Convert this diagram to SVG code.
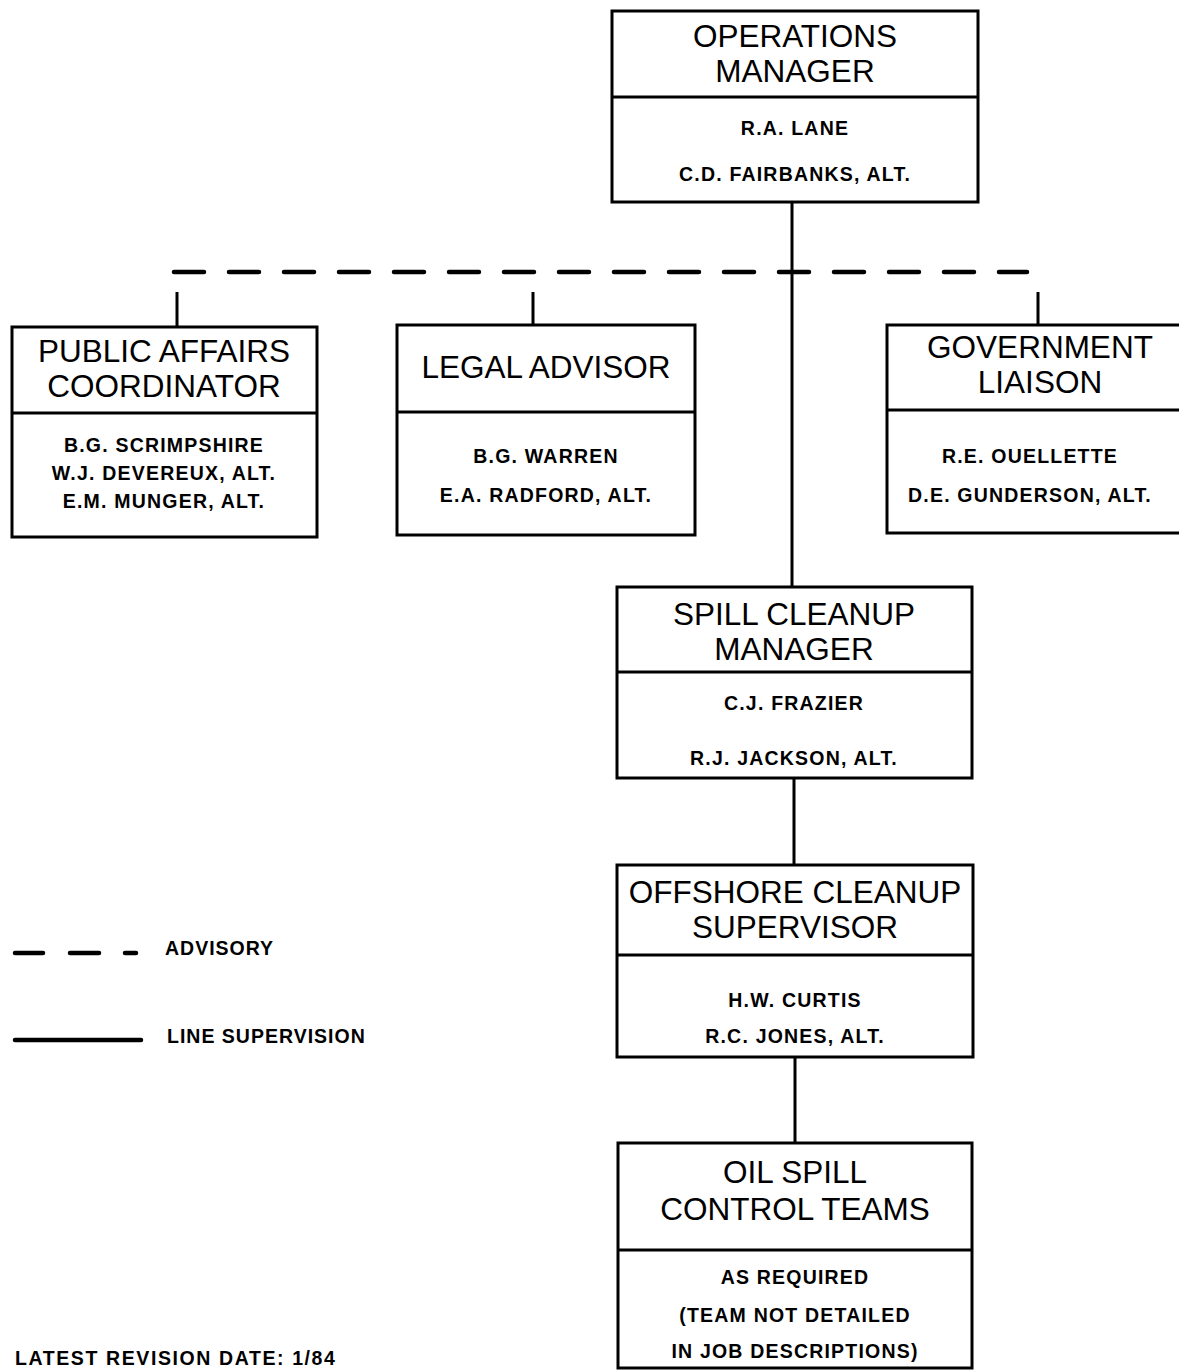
<svg xmlns="http://www.w3.org/2000/svg" width="1179" height="1370" viewBox="0 0 1179 1370">
<style>
.box{fill:#fff;stroke:#000;stroke-width:3}
.div{stroke:#000;stroke-width:3}
.t{font-family:"Liberation Sans",Arial,sans-serif;font-size:31.5px;text-anchor:middle;fill:#000}
.n{font-family:"Liberation Sans",Arial,sans-serif;font-size:19.5px;font-weight:bold;letter-spacing:1.2px;text-anchor:middle;fill:#000}
.l{font-family:"Liberation Sans",Arial,sans-serif;font-size:19.5px;font-weight:bold;letter-spacing:1px;fill:#000}
.solid{stroke:#000;stroke-width:3;fill:none}
.dash{stroke:#000;stroke-width:4.5;fill:none;stroke-dasharray:30 25;stroke-linecap:round}
</style>
<rect width="1179" height="1370" fill="#fff"/>
<g id="connectors">
<line class="dash" x1="174" y1="272" x2="1027" y2="272"/>
<line class="solid" x1="177" y1="292" x2="177" y2="327"/>
<line class="solid" x1="533" y1="292" x2="533" y2="325"/>
<line class="solid" x1="1038" y1="292" x2="1038" y2="325"/>
<line class="solid" x1="792" y1="202" x2="792" y2="587"/>
<line class="solid" x1="794" y1="778" x2="794" y2="865"/>
<line class="solid" x1="795" y1="1057" x2="795" y2="1143"/>
</g>
<g id="operations-manager">
<rect class="box" x="612" y="11" width="366" height="191"/>
<line class="div" x1="612" y1="97" x2="978" y2="97"/>
<text class="t" x="795" y="47">OPERATIONS</text>
<text class="t" x="795" y="82">MANAGER</text>
<text class="n" x="795" y="135">R.A. LANE</text>
<text class="n" x="795" y="181">C.D. FAIRBANKS, ALT.</text>
</g>
<g id="public-affairs">
<rect class="box" x="12" y="327" width="305" height="210"/>
<line class="div" x1="12" y1="413" x2="317" y2="413"/>
<text class="t" x="164" y="362">PUBLIC AFFAIRS</text>
<text class="t" x="164" y="397">COORDINATOR</text>
<text class="n" x="164" y="452">B.G. SCRIMPSHIRE</text>
<text class="n" x="164" y="480">W.J. DEVEREUX, ALT.</text>
<text class="n" x="164" y="508">E.M. MUNGER, ALT.</text>
</g>
<g id="legal-advisor">
<rect class="box" x="397" y="325" width="298" height="210"/>
<line class="div" x1="397" y1="412" x2="695" y2="412"/>
<text class="t" x="546" y="378">LEGAL ADVISOR</text>
<text class="n" x="546" y="463">B.G. WARREN</text>
<text class="n" x="546" y="502">E.A. RADFORD, ALT.</text>
</g>
<g id="government-liaison">
<rect class="box" x="887" y="325" width="300" height="208"/>
<line class="div" x1="887" y1="410" x2="1187" y2="410"/>
<text class="t" x="1040" y="358">GOVERNMENT</text>
<text class="t" x="1040" y="393">LIAISON</text>
<text class="n" x="1030" y="463">R.E. OUELLETTE</text>
<text class="n" x="1030" y="502">D.E. GUNDERSON, ALT.</text>
</g>
<g id="spill-cleanup-manager">
<rect class="box" x="617" y="587" width="355" height="191"/>
<line class="div" x1="617" y1="672" x2="972" y2="672"/>
<text class="t" x="794" y="625">SPILL CLEANUP</text>
<text class="t" x="794" y="660">MANAGER</text>
<text class="n" x="794" y="710">C.J. FRAZIER</text>
<text class="n" x="794" y="765">R.J. JACKSON, ALT.</text>
</g>
<g id="offshore-cleanup-supervisor">
<rect class="box" x="617" y="865" width="356" height="192"/>
<line class="div" x1="617" y1="955" x2="973" y2="955"/>
<text class="t" x="795" y="903">OFFSHORE CLEANUP</text>
<text class="t" x="795" y="938">SUPERVISOR</text>
<text class="n" x="795" y="1007">H.W. CURTIS</text>
<text class="n" x="795" y="1043">R.C. JONES, ALT.</text>
</g>
<g id="oil-spill-control-teams">
<rect class="box" x="618" y="1143" width="354" height="225"/>
<line class="div" x1="618" y1="1250" x2="972" y2="1250"/>
<text class="t" x="795" y="1183">OIL SPILL</text>
<text class="t" x="795" y="1220">CONTROL TEAMS</text>
<text class="n" x="795" y="1284">AS REQUIRED</text>
<text class="n" x="795" y="1322">(TEAM NOT DETAILED</text>
<text class="n" x="795" y="1358">IN JOB DESCRIPTIONS)</text>
</g>
<g id="legend">
<line x1="15" y1="953" x2="43" y2="953" stroke="#000" stroke-width="4.5" stroke-linecap="round"/>
<line x1="70" y1="953" x2="99" y2="953" stroke="#000" stroke-width="4.5" stroke-linecap="round"/>
<line x1="125" y1="953" x2="136" y2="953" stroke="#000" stroke-width="4.5" stroke-linecap="round"/>
<text class="l" x="165" y="955">ADVISORY</text>
<line x1="15" y1="1040" x2="141" y2="1040" stroke="#000" stroke-width="4.5" stroke-linecap="round"/>
<text class="l" x="167" y="1043">LINE SUPERVISION</text>
</g>
<g id="revision">
<text class="l" x="15" y="1365" style="letter-spacing:1.6px">LATEST REVISION DATE: 1/84</text>
</g>
</svg>
